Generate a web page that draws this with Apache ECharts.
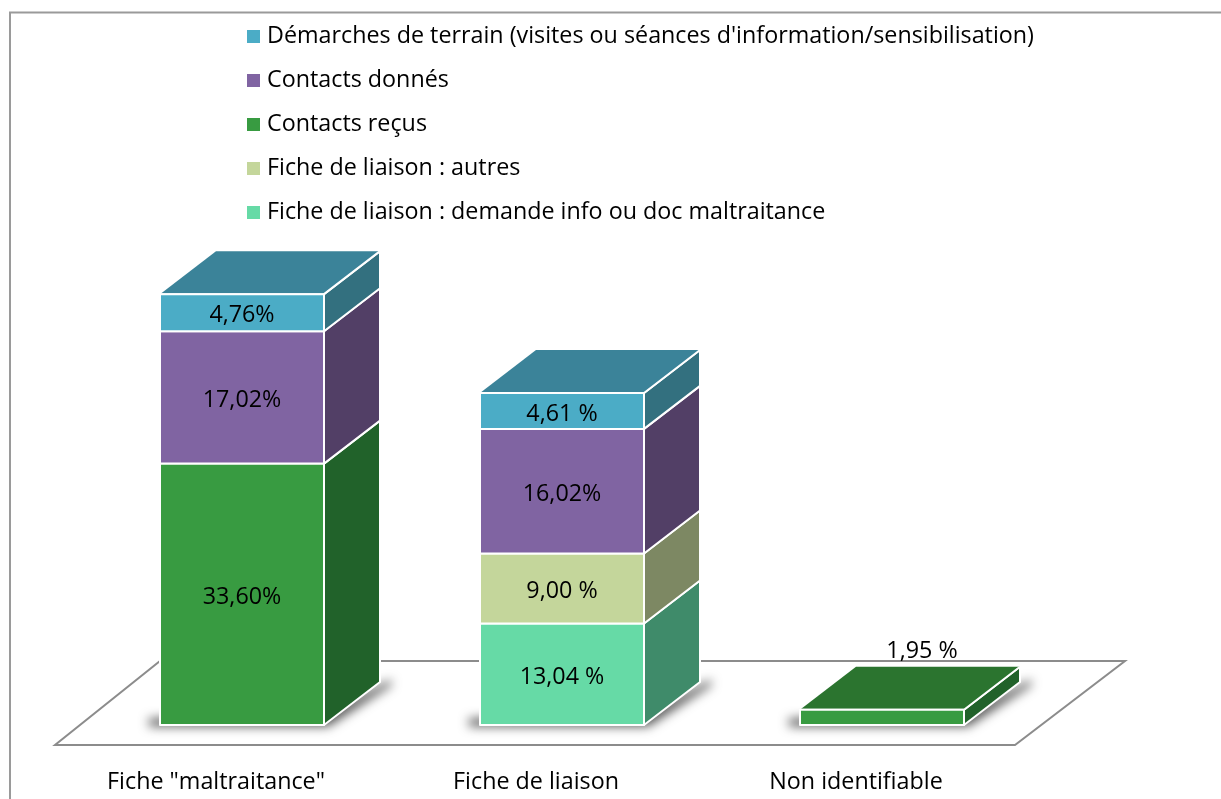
<!DOCTYPE html>
<html><head><meta charset="utf-8">
<style>html,body{margin:0;padding:0;background:#fff}#c{width:1221px;height:799px}</style>
<script src="https://cdn.jsdelivr.net/npm/echarts@6/dist/echarts.min.js"></script>
</head><body><div id="c"></div>
<script>
const categories = ['Fiche "maltraitance"', 'Fiche de liaison', 'Non identifiable'];
const seriesNames = [
  "Fiche de liaison : demande info ou doc maltraitance",
  "Fiche de liaison : autres",
  "Contacts reçus",
  "Contacts donnés",
  "Démarches de terrain (visites ou séances d'information/sensibilisation)"
];
const demandeInfo = [0, 13.04, 0];
const autres = [0, 9.00, 0];
const contactsRecus = [33.60, 0, 1.95];
const contactsDonnes = [17.02, 16.02, 0];
const demarches = [4.76, 4.61, 0];
const valueTable = [demandeInfo, autres, contactsRecus, contactsDonnes, demarches];
const demandeInfoLabels = ['', '13,04 %', ''];
const autresLabels = ['', '9,00 %', ''];
const contactsRecusLabels = ['33,60%', '', '1,95 %'];
const contactsDonnesLabels = ['17,02%', '16,02%', ''];
const demarchesLabels = ['4,76%', '4,61 %', ''];
const labelTable = [demandeInfoLabels, autresLabels, contactsRecusLabels, contactsDonnesLabels, demarchesLabels];
const frontColors = ['#66DAA6', '#C4D69B', '#389B41', '#8064A2', '#4BACC6'];
const sideColors = ['#3F8B6A', '#7D8863', '#21622A', '#523F66', '#33707F'];
const topColors = ['#4A9F78', '#8F9C70', '#2B742F', '#5F4A78', '#3B8399'];

const FONT = '"Open Sans"';
const FS = 23.3;
const DX = 56, DY = -43;
const BAR_RATIO = 0.5125;
const SHADOW_SHIFT = 3000;

function makeRender(si){
  return function(params, api){
    const cat = api.value(0), base = api.value(1), top = api.value(2), isTop = api.value(3);
    const band = api.size([1,0])[0];
    const w = band * BAR_RATIO;
    const pb = api.coord([cat, base]), pt = api.coord([cat, top]);
    const x0 = pb[0]-w/2, x1 = pb[0]+w/2, yb = pb[1], yt = pt[1];
    const kids = [];
    const edge = {stroke:'#fff', lineWidth:2, lineJoin:'round'};
    kids.push({type:'polygon', shape:{points:[[x1,yb],[x1+DX,yb+DY],[x1+DX,yt+DY],[x1,yt]]},
      style:Object.assign({fill:sideColors[si]},edge)});
    if(isTop){
      kids.push({type:'polygon', shape:{points:[[x0,yt],[x0+DX,yt+DY],[x1+DX,yt+DY],[x1,yt]]},
        style:{fill:topColors[si], stroke:null}});
      kids.push({type:'polyline', shape:{points:[[x0,yt],[x1,yt],[x1+DX,yt+DY]]},
        style:{stroke:'#fff',lineWidth:2,fill:null}});
    }
    kids.push({type:'rect', shape:{x:x0,y:yt,width:w,height:yb-yt},
      style:Object.assign({fill:frontColors[si]},edge)});
    const label = labelTable[si][cat];
    if(label){
      const small = (yb-yt) < 24;
      kids.push({type:'text', z2:10, style:{
        text:label,
        x: small ? pb[0]+40 : pb[0],
        y: small ? yt+DY-15 : (yb+yt)/2+3,
        align:'center', verticalAlign:'middle',
        font:FS+'px '+FONT, fill:'#000'
      }});
    }
    return {type:'group', children:kids};
  };
}

const cumulative = [0,0,0];
const lastIdx = [0,1,2].map(c=>{let l=-1;valueTable.forEach((v,i)=>{if(v[c]>0)l=i;});return l;});
const barSeries = seriesNames.map((name,si)=>{
  const data = [];
  valueTable[si].forEach((v,c)=>{
    if(v>0){ data.push([c, cumulative[c], cumulative[c]+v, lastIdx[c]===si?1:0]); cumulative[c]+=v; }
  });
  return {name, type:'custom', coordinateSystem:'cartesian2d', z:5,
    itemStyle:{color:frontColors[si]}, renderItem:makeRender(si),
    encode:{x:0,y:2}, data, silent:true};
});

const floorSeries = {name:'floor', type:'custom', coordinateSystem:'cartesian2d', z:1, silent:true,
  data:[[0,0]], encode:{x:0,y:1},
  renderItem(params, api){
    const cs = params.coordSys, y0 = api.coord([0,0])[1];
    const left = cs.x, right = cs.x+cs.width;
    return {type:'polygon', shape:{points:[[left-27,y0+20],[right-27,y0+20],[right+83,y0-64],[left+78,y0-64]]},
      style:{fill:'#fff',stroke:'#8c8c8c',lineWidth:2}};
  }};
const shadowSeries = {name:'shadow', type:'custom', coordinateSystem:'cartesian2d', z:2, silent:true,
  data:categories.map((c,i)=>[i,0]), encode:{x:0,y:1},
  renderItem(params, api){
    const p = api.coord([api.value(0),0]);
    const w = api.size([1,0])[0]*BAR_RATIO;
    const x0=p[0]-w/2-SHADOW_SHIFT,x1=p[0]+w/2-SHADOW_SHIFT,y=p[1];
    return {type:'polygon', shape:{points:[[x0-11,y-6],[x0-11,y+1],[x1+4,y+1],[x1+DX+11,y+DY+3],[x1+DX+11,y+DY-2],[x1,y-12]]},
      style:{fill:'#555',shadowBlur:11,shadowColor:'rgba(70,70,70,1)',shadowOffsetX:SHADOW_SHIFT,shadowOffsetY:0}};
  }};

const chart = echarts.init(document.getElementById('c'), null, {renderer:'canvas'});
chart.setOption({
  animation:false,
  backgroundColor:'#fff',
  textStyle:{fontFamily:FONT},
  graphic:[{type:'polyline', silent:true, z:0,
    shape:{points:[[10,799],[10,12.5],[1221,12.5]]},
    style:{stroke:'#9a9a9a',lineWidth:2,fill:null}}],
  legend:{
    orient:'vertical', left:242, top:18, itemWidth:13, itemHeight:13, itemGap:17,
    icon:'rect',
    data:seriesNames.slice().reverse(),
    selectedMode:false,
    textStyle:{fontFamily:FONT,fontSize:FS,color:'#000',height:25,lineHeight:25,padding:[2,0,0,2]}
  },
  grid:{left:82,width:960,top:180.4,bottom:74,containLabel:false},
  xAxis:{type:'category',data:categories,
    axisLine:{show:false},axisTick:{show:false},splitLine:{show:false},
    axisLabel:{interval:0,margin:45,fontFamily:FONT,fontSize:FS,color:'#000',padding:[0,52,0,0],lineHeight:24}},
  yAxis:{type:'value',min:0,max:70,show:false},
  series:[floorSeries,shadowSeries].concat(barSeries)
});
</script></body></html>
